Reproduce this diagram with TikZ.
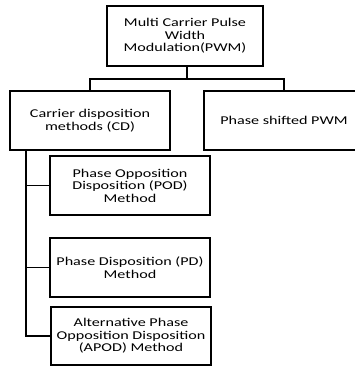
\documentclass[tikz,border=0pt]{standalone}
\usepackage{fontspec}
\setmainfont{Carlito}[FakeStretch=1.35]
\begin{document}
\begin{tikzpicture}[x=1bp,y=-1bp,
  box/.style={draw=black,line width=1.4bp,rectangle,inner sep=0pt,align=center,font=\fontsize{12}{12.6}\selectfont,fill=white},
  conn/.style={draw=black,line width=1.4bp}]
\useasboundingbox (0,0) rectangle (355,366);
\clip (0,0) rectangle (355,366);
\node[box,minimum width=156bp,minimum height=60bp] (top) at (185,36) {Multi Carrier Pulse\\Width\\Modulation(PWM)};
\node[box,minimum width=160bp,minimum height=59bp] (cd) at (90,120.5) {Carrier disposition\\methods (CD)};
\node[box,minimum width=160bp,minimum height=59bp] (ps) at (284,120.5) {Phase shifted PWM};
\node[box,minimum width=160bp,minimum height=59bp] (pod) at (130,185.5) {Phase Opposition\\Disposition (POD)\\Method};
\node[box,minimum width=160bp,minimum height=59bp] (pd) at (130,267.5) {Phase Disposition (PD)\\Method};
\node[box,minimum width=160bp,minimum height=58bp] (apod) at (131,336) {Alternative Phase\\Opposition Disposition\\(APOD) Method};
\coordinate (j) at (187,79);
\draw[conn] (top.south -| j) -- (j);
\draw[conn] (cd.north) |- (j) -| (ps.north);
\coordinate (v) at (26,0);
\draw[conn] (cd.south -| v) |- (apod.west);
\draw[conn] (v |- pod.west) -- (pod.west);
\draw[conn] (v |- pd.west) -- (pd.west);
\end{tikzpicture}
\end{document}
